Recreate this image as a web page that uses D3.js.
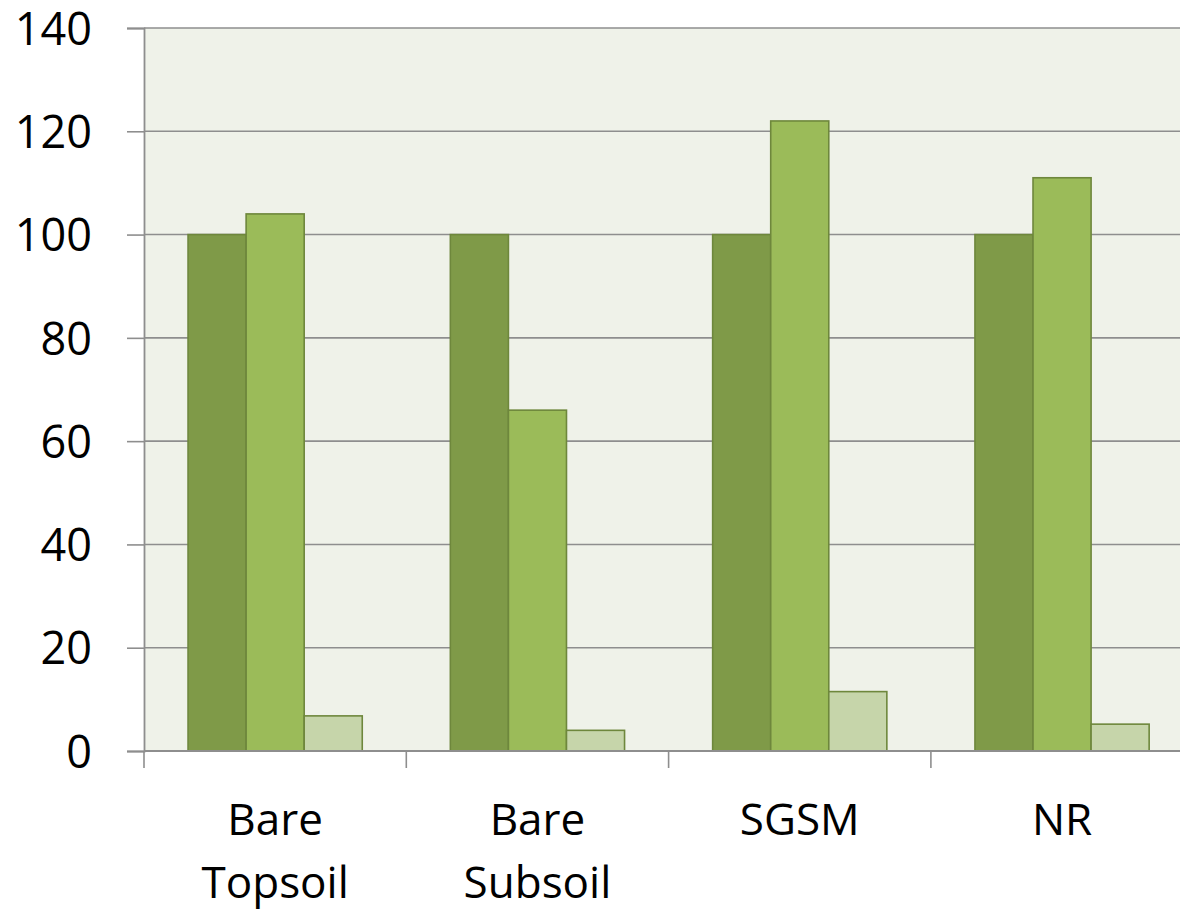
<!DOCTYPE html>
<html>
<head>
<meta charset="utf-8">
<script src="https://cdn.jsdelivr.net/npm/d3@7"></script>
<style>
  html, body { margin: 0; padding: 0; background: #ffffff; }
  svg { display: block; }
  text { font-family: "Open Sans", "Liberation Sans", sans-serif; fill: #000; }
</style>
</head>
<body>
<svg id="chart" width="1180" height="910"></svg>
<script>
// Soil treatments along the x axis (each label may wrap onto two lines)
const categories = ["Bare Topsoil", "Bare Subsoil", "SGSM", "NR"];
const categoryLines = [["Bare", "Topsoil"], ["Bare", "Subsoil"], ["SGSM"], ["NR"]];

// Three series per treatment
const seriesNames = ["Series 1", "Series 2", "Series 3"];
const series1 = [100, 100, 100, 100];
const series2 = [104, 66, 122, 111];
const series3 = [6.8, 4.0, 11.5, 5.2];

const yTicks = [0, 20, 40, 60, 80, 100, 120, 140];

const fills = ["#7F9A48", "#9BBB59", "#C6D5AA"];
const strokes = ["#6E873C", "#6E873C", "#6E873C"];

const svg = d3.select("#chart");
const margin = { left: 144, top: 28, bottom: 751 };
const bandW = 262.3;
const plotRight = margin.left + bandW * categories.length;

const x = d3.scaleBand()
  .domain(categories)
  .range([margin.left, plotRight])
  .paddingInner(0)
  .paddingOuter(0);

const y = d3.scaleLinear().domain([0, 140]).range([margin.bottom, margin.top]);

const inner = d3.scaleBand()
  .domain(seriesNames)
  .range([0, x.bandwidth()])
  .paddingOuter(44 / 58)
  .paddingInner(0);

// Plot background
svg.append("rect")
  .attr("x", margin.left).attr("y", margin.top)
  .attr("width", plotRight - margin.left)
  .attr("height", margin.bottom - margin.top)
  .attr("fill", "#EFF2E9");

// Horizontal gridlines
svg.append("g")
  .selectAll("line")
  .data(yTicks.filter(d => d > 0))
  .join("line")
  .attr("x1", margin.left).attr("x2", plotRight)
  .attr("y1", d => y(d)).attr("y2", d => y(d))
  .attr("stroke", "#8E8E8E").attr("stroke-width", 1.6);

// Bars
const values = [series1, series2, series3];
const rows = [];
categories.forEach((c, i) => {
  seriesNames.forEach((s, j) => rows.push({ c, s, j, v: values[j][i] }));
});

svg.append("g")
  .selectAll("rect")
  .data(rows)
  .join("rect")
  .attr("x", d => x(d.c) + inner(d.s))
  .attr("y", d => y(d.v))
  .attr("width", inner.bandwidth())
  .attr("height", d => y(0) - y(d.v))
  .attr("fill", d => fills[d.j])
  .attr("stroke", d => strokes[d.j])
  .attr("stroke-width", 1.6);

// Y axis
const yAxis = d3.axisLeft(y)
  .tickValues(yTicks)
  .tickSize(17)
  .tickPadding(35)
  .tickFormat(d3.format("d"));

const gy = svg.append("g")
  .attr("transform", `translate(${margin.left},0)`)
  .call(yAxis);
gy.select(".domain").attr("stroke", "#8E8E8E").attr("stroke-width", 1.8);
gy.selectAll(".tick line").attr("stroke", "#8E8E8E").attr("stroke-width", 1.6);
gy.selectAll(".tick text")
  .attr("font-size", 45)
  .attr("fill", "#000")
  .attr("dy", "0.36em");

// X axis with tick marks at category boundaries
const gx = svg.append("g").attr("transform", `translate(0,${margin.bottom})`);
gx.append("line")
  .attr("x1", margin.left).attr("x2", plotRight)
  .attr("stroke", "#8E8E8E").attr("stroke-width", 1.8);
gx.selectAll(".bound")
  .data(d3.range(categories.length + 1))
  .join("line")
  .attr("class", "bound")
  .attr("x1", i => margin.left + i * x.step())
  .attr("x2", i => margin.left + i * x.step())
  .attr("y1", 0).attr("y2", 17)
  .attr("stroke", "#8E8E8E").attr("stroke-width", 1.6);

// Category labels
const labels = gx.selectAll(".cat")
  .data(categories)
  .join("text")
  .attr("class", "cat")
  .attr("text-anchor", "middle")
  .attr("font-size", 44)
  .attr("transform", d => `translate(${x(d) + x.bandwidth() / 2},84)`);
labels.selectAll("tspan")
  .data((d, i) => categoryLines[i])
  .join("tspan")
  .attr("x", 0)
  .attr("dy", (d, i) => i === 0 ? 0 : 63)
  .text(d => d);
</script>
</body>
</html>
